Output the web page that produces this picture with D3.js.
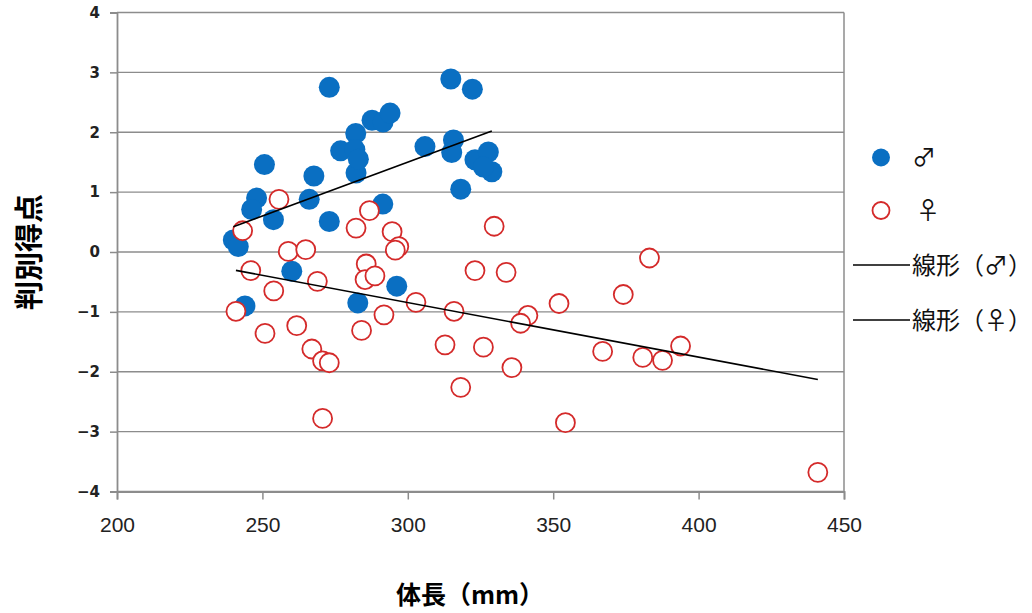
<!DOCTYPE html>
<html>
<head>
<meta charset="utf-8">
<script src="https://cdn.jsdelivr.net/npm/d3@7"></script>
<style>
    body { margin: 0; background: #fff; }
    svg { display: block; }
    .tick text { fill: #222; }
    .grid line { stroke: #8c8c8c; stroke-width: 1.3; }
</style>
</head>
<body>
<div id="chart"></div>
<script>
// 体長 (mm) and 判別得点
const maleLength = [273.0, 314.8, 322.2, 287.7, 291.5, 293.9, 282.1, 276.9, 281.8, 282.2,
    305.9, 315.7, 315.1, 323.1, 327.7, 328.9, 326.0, 318.2, 250.7, 267.7,
    266.1, 248.0, 246.3, 253.8, 273.0, 291.4, 240.0, 241.7, 260.1, 244.0,
    282.8, 296.2, 283.0];
const maleScore = [2.75, 2.89, 2.72, 2.20, 2.17, 2.32, 1.98, 1.69, 1.71, 1.32,
    1.76, 1.87, 1.66, 1.54, 1.67, 1.34, 1.42, 1.05, 1.46, 1.27,
    0.88, 0.90, 0.71, 0.54, 0.51, 0.80, 0.20, 0.09, -0.32, -0.90,
    -0.85, -0.57, 1.55];

const femaleLength = [255.7, 243.2, 286.8, 282.2, 294.6, 296.9, 295.7, 329.7, 258.9, 264.9,
    246.0, 253.9, 268.9, 285.7, 285.3, 288.7, 302.8, 315.9, 323.1, 333.8,
    240.9, 291.8, 250.9, 261.8, 284.1, 267.0, 270.7, 273.0, 312.8, 326.0,
    335.8, 318.2, 270.7, 383.1, 374.1, 352.0, 341.3, 338.8, 367.0, 380.8,
    387.6, 393.8, 354.2, 441.0];
const femaleScore = [0.88, 0.355, 0.69, 0.40, 0.34, 0.09, 0.03, 0.43, 0.01, 0.04,
    -0.31, -0.65, -0.49, -0.20, -0.46, -0.40, -0.84, -0.99, -0.31, -0.34,
    -0.99, -1.05, -1.36, -1.23, -1.31, -1.62, -1.82, -1.85, -1.55, -1.59,
    -1.93, -2.26, -2.78, -0.10, -0.71, -0.86, -1.06, -1.19, -1.66, -1.76,
    -1.81, -1.57, -2.85, -3.68];

// linear trend lines [slope, intercept]
const maleTrend = [0.0180, -3.90];
const femaleTrend = [-0.0091, 1.885];

const xTicks = [200, 250, 300, 350, 400, 450];
const yTicks = [-4, -3, -2, -1, 0, 1, 2, 3, 4];
const legendLabels = ["♂", "♀", "線形（♂）", "線形（♀）"];

const blue = "#0a6fc2",
    red = "#d42a2a";

const width = 1032, height = 613;
const plot = {left: 117, right: 844, top: 12.5, bottom: 491.5};

const x = d3.scaleLinear().domain([200, 450]).range([plot.left, plot.right]);
const y = d3.scaleLinear().domain([-4, 4]).range([plot.bottom, plot.top]);

const svg = d3.select("#chart").append("svg")
    .attr("width", width)
    .attr("height", height);

// horizontal grid
svg.append("g")
    .attr("class", "grid")
    .selectAll("line")
    .data(yTicks)
    .join("line")
    .attr("x1", plot.left).attr("x2", plot.right)
    .attr("y1", d => y(d)).attr("y2", d => y(d));

// right border of plot area
svg.append("line")
    .attr("x1", plot.right).attr("x2", plot.right)
    .attr("y1", plot.top).attr("y2", plot.bottom)
    .attr("stroke", "#8c8c8c").attr("stroke-width", 1.5);

const xAxis = svg.append("g")
    .attr("transform", `translate(0,${plot.bottom})`)
    .call(d3.axisBottom(x).tickValues(xTicks).tickSize(8).tickPadding(18));
xAxis.selectAll("text")
    .attr("font-family", "'Liberation Sans', sans-serif")
    .attr("font-size", 21);

const yAxis = svg.append("g")
    .attr("transform", `translate(${plot.left},0)`)
    .call(d3.axisLeft(y).tickValues(yTicks).tickSize(7).tickPadding(10)
        .tickFormat(d3.format("d")));
yAxis.selectAll("text")
    .attr("font-family", "'DejaVu Sans', sans-serif")
    .attr("font-size", 15)
    .attr("font-weight", "bold")
    .attr("fill", "#444");

[xAxis, yAxis].forEach(a => {
    a.selectAll(".domain").attr("stroke", "#8c8c8c").attr("stroke-width", 1.8);
    a.selectAll(".tick line").attr("stroke", "#8c8c8c").attr("stroke-width", 1.5);
});

// points: blue filled first, red hollow on top
svg.append("g")
    .selectAll("circle")
    .data(d3.range(maleLength.length))
    .join("circle")
    .attr("cx", i => x(maleLength[i]))
    .attr("cy", i => y(maleScore[i]))
    .attr("r", 10.5)
    .attr("fill", blue);

svg.append("g")
    .selectAll("circle")
    .data(d3.range(femaleLength.length))
    .join("circle")
    .attr("cx", i => x(femaleLength[i]))
    .attr("cy", i => y(femaleScore[i]))
    .attr("r", 9.5)
    .attr("fill", "#fff")
    .attr("stroke", red)
    .attr("stroke-width", 1.8);

// trend lines across each group's range
function trendLine(xs, trend) {
    const ext = d3.extent(xs);
    svg.append("line")
        .attr("x1", x(ext[0])).attr("y1", y(trend[0] * ext[0] + trend[1]))
        .attr("x2", x(ext[1])).attr("y2", y(trend[0] * ext[1] + trend[1]))
        .attr("stroke", "#000")
        .attr("stroke-width", 1.6);
}
trendLine(maleLength, maleTrend);
trendLine(femaleLength, femaleTrend);

// legend
const legend = svg.append("g");
const legendFont = "'Noto Sans CJK JP', 'DejaVu Sans', sans-serif";
legend.append("circle")
    .attr("cx", 881).attr("cy", 157.5).attr("r", 9)
    .attr("fill", blue);
legend.append("circle")
    .attr("cx", 881).attr("cy", 210.5).attr("r", 8.5)
    .attr("fill", "#fff").attr("stroke", red).attr("stroke-width", 1.8);
[265, 320].forEach(ly => {
    legend.append("line")
        .attr("x1", 853).attr("x2", 910)
        .attr("y1", ly).attr("y2", ly)
        .attr("stroke", "#000").attr("stroke-width", 1.3);
});
const legendPos = [[912, 157.5], [916, 210.5], [912, 265], [912, 320]];
legendLabels.forEach((t, i) => {
    legend.append("text")
        .attr("x", legendPos[i][0])
        .attr("y", legendPos[i][1])
        .attr("dy", "0.36em")
        .attr("font-family", legendFont)
        .attr("font-size", 24)
        .attr("fill", "#111")
        .text(t);
});

// axis titles
svg.append("text")
    .attr("x", 470).attr("y", 604)
    .attr("text-anchor", "middle")
    .attr("font-family", "'Noto Sans CJK JP', serif")
    .attr("font-size", 25)
    .attr("font-weight", "bold")
    .text("体長（mm）");

svg.append("text")
    .attr("transform", `translate(40,252) rotate(-90)`)
    .attr("text-anchor", "middle")
    .attr("font-family", "'Noto Sans CJK JP', sans-serif")
    .attr("font-size", 29)
    .attr("font-weight", "bold")
    .text("判別得点");
</script>
</body>
</html>
